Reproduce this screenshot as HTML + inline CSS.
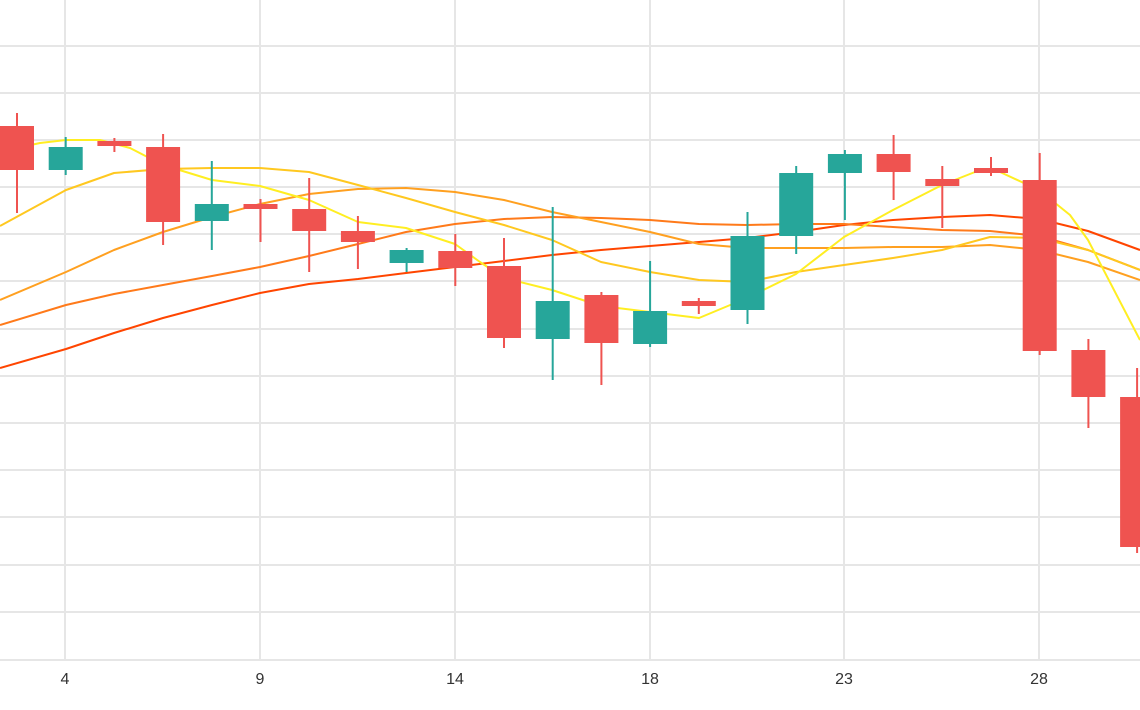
<!DOCTYPE html>
<html><head><meta charset="utf-8"><style>
html,body{margin:0;padding:0;background:#fff;}
svg{display:block;}
text{font-family:"Liberation Sans",sans-serif;font-size:16px;fill:#333;}
</style></head><body>
<svg width="1140" height="710" viewBox="0 0 1140 710" xmlns="http://www.w3.org/2000/svg">
<g stroke="#e6e6e6" stroke-width="2">
<line x1="0" y1="46" x2="1140" y2="46"/><line x1="0" y1="93" x2="1140" y2="93"/>
<line x1="0" y1="140" x2="1140" y2="140"/><line x1="0" y1="187" x2="1140" y2="187"/>
<line x1="0" y1="234" x2="1140" y2="234"/><line x1="0" y1="281" x2="1140" y2="281"/>
<line x1="0" y1="329" x2="1140" y2="329"/><line x1="0" y1="376" x2="1140" y2="376"/>
<line x1="0" y1="423" x2="1140" y2="423"/><line x1="0" y1="470" x2="1140" y2="470"/>
<line x1="0" y1="517" x2="1140" y2="517"/><line x1="0" y1="565" x2="1140" y2="565"/>
<line x1="0" y1="612" x2="1140" y2="612"/><line x1="0" y1="660" x2="1140" y2="660"/>
<line x1="65" y1="0" x2="65" y2="660"/><line x1="260" y1="0" x2="260" y2="660"/>
<line x1="455" y1="0" x2="455" y2="660"/><line x1="650" y1="0" x2="650" y2="660"/>
<line x1="844" y1="0" x2="844" y2="660"/><line x1="1039" y1="0" x2="1039" y2="660"/>
</g>
<g text-anchor="middle">
<text x="65" y="684">4</text><text x="260" y="684">9</text><text x="455" y="684">14</text>
<text x="650" y="684">18</text><text x="844" y="684">23</text><text x="1039" y="684">28</text>
</g>
<g fill="none" stroke-width="2" stroke-linejoin="round">
<polyline stroke="#ff4500" points="0,368 66,349 114,333 163,318 212,305 260,293 309,284 358,279 406,273 455,267 504,261 552,255 601,250 650,246 699,242 747,238 796,232 844,225 893,220 942,217 990,215 1039,219 1088,231 1140,250"/>
<polyline stroke="#ff7a1a" points="0,325 66,305 114,294 163,285 212,276 260,267 309,256 358,244 406,232 455,224 504,219 552,217 601,218 650,220 699,224 747,225 796,224 844,224 893,227 942,230 990,231 1039,236 1088,250 1140,270"/>
<polyline stroke="#ffa020" points="0,300 66,272 114,250 163,232 212,217 260,204 309,194 358,189 406,188 455,192 504,200 552,212 601,222 650,232 699,244 747,248 796,248 844,248 893,247 942,247 990,245 1039,250 1088,262 1140,280"/>
<polyline stroke="#ffc820" points="0,226 66,190 114,173 163,169 212,168 260,168 309,172 358,185 406,198 455,212 504,225 552,240 601,262 650,272 699,280 747,282 796,272 844,265 893,258 942,250 990,237 1039,238 1088,250 1140,270"/>
<polyline stroke="#ffee22" points="17,148 40,143 66,140 100,140 130,148 163,165 212,180 260,186 309,200 358,222 406,228 455,244 480,262 504,278 552,290 601,306 650,312 699,318 747,298 796,274 844,237 893,210 942,185 975,172 1000,172 1039,190 1070,215 1088,240 1140,340"/>
</g>
<g stroke-width="2">
<g fill="#ef5350" stroke="#ef5350"><line x1="17" x2="17" y1="113" y2="213"/><rect x="0" y="126" width="34" height="44" stroke="none"/></g>
<g fill="#26a69a" stroke="#26a69a"><line x1="65.7" x2="65.7" y1="137" y2="175"/><rect x="48.7" y="147" width="34" height="23" stroke="none"/></g>
<g fill="#ef5350" stroke="#ef5350"><line x1="114.4" x2="114.4" y1="138" y2="152"/><rect x="97.4" y="141" width="34" height="5" stroke="none"/></g>
<g fill="#ef5350" stroke="#ef5350"><line x1="163.1" x2="163.1" y1="134" y2="245"/><rect x="146.1" y="147" width="34" height="75" stroke="none"/></g>
<g fill="#26a69a" stroke="#26a69a"><line x1="211.8" x2="211.8" y1="161" y2="250"/><rect x="194.8" y="204" width="34" height="17" stroke="none"/></g>
<g fill="#ef5350" stroke="#ef5350"><line x1="260.5" x2="260.5" y1="199" y2="242"/><rect x="243.5" y="204" width="34" height="5" stroke="none"/></g>
<g fill="#ef5350" stroke="#ef5350"><line x1="309.2" x2="309.2" y1="178" y2="272"/><rect x="292.2" y="209" width="34" height="22" stroke="none"/></g>
<g fill="#ef5350" stroke="#ef5350"><line x1="357.9" x2="357.9" y1="216" y2="269"/><rect x="340.9" y="231" width="34" height="11" stroke="none"/></g>
<g fill="#26a69a" stroke="#26a69a"><line x1="406.6" x2="406.6" y1="248" y2="272"/><rect x="389.6" y="250" width="34" height="13" stroke="none"/></g>
<g fill="#ef5350" stroke="#ef5350"><line x1="455.3" x2="455.3" y1="234" y2="286"/><rect x="438.3" y="251" width="34" height="17" stroke="none"/></g>
<g fill="#ef5350" stroke="#ef5350"><line x1="504" x2="504" y1="238" y2="348"/><rect x="487" y="266" width="34" height="72" stroke="none"/></g>
<g fill="#26a69a" stroke="#26a69a"><line x1="552.7" x2="552.7" y1="207" y2="380"/><rect x="535.7" y="301" width="34" height="38" stroke="none"/></g>
<g fill="#ef5350" stroke="#ef5350"><line x1="601.4" x2="601.4" y1="292" y2="385"/><rect x="584.4" y="295" width="34" height="48" stroke="none"/></g>
<g fill="#26a69a" stroke="#26a69a"><line x1="650.1" x2="650.1" y1="261" y2="347"/><rect x="633.1" y="311" width="34" height="33" stroke="none"/></g>
<g fill="#ef5350" stroke="#ef5350"><line x1="698.8" x2="698.8" y1="298" y2="314"/><rect x="681.8" y="301" width="34" height="5" stroke="none"/></g>
<g fill="#26a69a" stroke="#26a69a"><line x1="747.5" x2="747.5" y1="212" y2="324"/><rect x="730.5" y="236" width="34" height="74" stroke="none"/></g>
<g fill="#26a69a" stroke="#26a69a"><line x1="796.2" x2="796.2" y1="166" y2="254"/><rect x="779.2" y="173" width="34" height="63" stroke="none"/></g>
<g fill="#26a69a" stroke="#26a69a"><line x1="844.9" x2="844.9" y1="150" y2="220"/><rect x="827.9" y="154" width="34" height="19" stroke="none"/></g>
<g fill="#ef5350" stroke="#ef5350"><line x1="893.6" x2="893.6" y1="135" y2="200"/><rect x="876.6" y="154" width="34" height="18" stroke="none"/></g>
<g fill="#ef5350" stroke="#ef5350"><line x1="942.3" x2="942.3" y1="166" y2="228"/><rect x="925.3" y="179" width="34" height="7" stroke="none"/></g>
<g fill="#ef5350" stroke="#ef5350"><line x1="991" x2="991" y1="157" y2="176"/><rect x="974" y="168" width="34" height="5" stroke="none"/></g>
<g fill="#ef5350" stroke="#ef5350"><line x1="1039.7" x2="1039.7" y1="153" y2="355"/><rect x="1022.7" y="180" width="34" height="171" stroke="none"/></g>
<g fill="#ef5350" stroke="#ef5350"><line x1="1088.4" x2="1088.4" y1="339" y2="428"/><rect x="1071.4" y="350" width="34" height="47" stroke="none"/></g>
<g fill="#ef5350" stroke="#ef5350"><line x1="1137.1" x2="1137.1" y1="368" y2="553"/><rect x="1120.1" y="397" width="34" height="150" stroke="none"/></g>
</g>
</svg>
</body></html>
